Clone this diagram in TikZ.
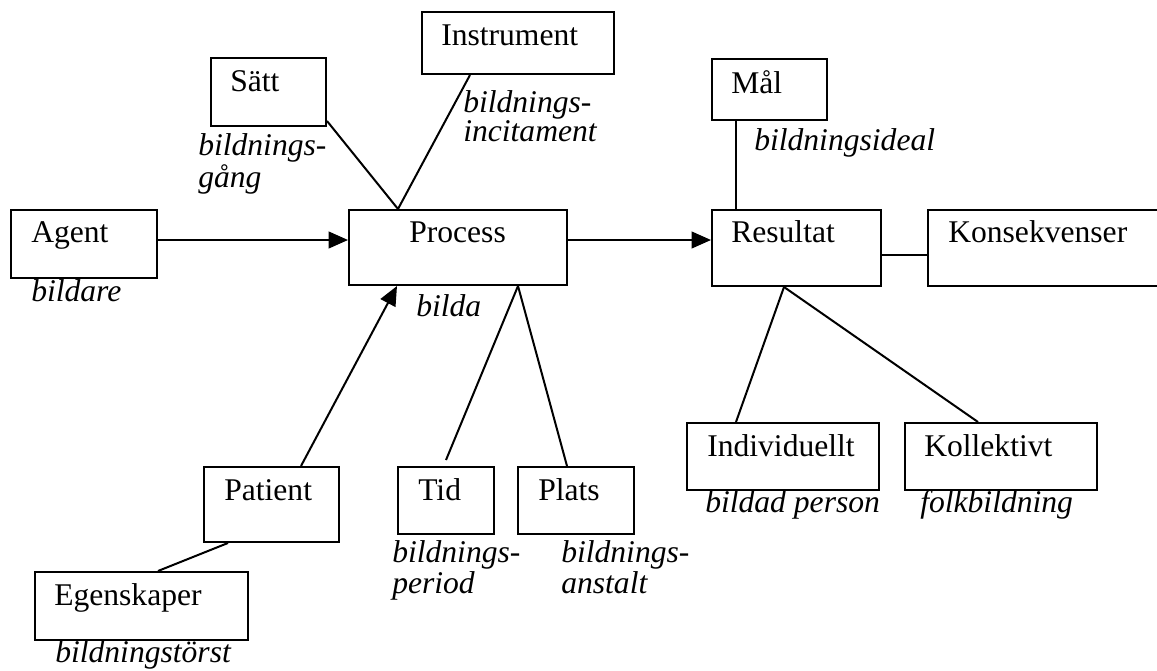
\documentclass[tikz,border=0pt]{standalone}
\usepackage{fontspec}
\setmainfont{Liberation Serif}
\usetikzlibrary{arrows.meta}
\begin{document}
\begin{tikzpicture}[x=0.75pt,y=-0.75pt,
  font=\fontsize{23.7}{28}\selectfont,
  box/.style={draw,line width=1.5pt,rectangle,anchor=north west,inner sep=0pt},
  lab/.style={anchor=base west,inner sep=0pt},
  itl/.style={lab,font=\fontsize{23.7}{28}\selectfont\itshape},
  con/.style={line width=1.5pt},
  arr/.style={con,-{Triangle[length=14.5pt,width=12.5pt]}}]
\useasboundingbox (0,0) rectangle (1157,671);
\fill[white] (0,0) rectangle (1157,671);
\clip (0,0) rectangle (1157,671);
\newcommand\bx[5]{\node[box,minimum width={(#4-#2)*0.75pt},minimum height={(#5-#3)*0.75pt}] (#1) at (#2,#3) {};}
% boxes
\bx{agent}{10}{209}{156}{277}
\bx{process}{348}{209}{566}{284}
\bx{satt}{210}{57}{325}{125}
\bx{instr}{421}{11}{613}{73}
\bx{mal}{711}{58}{826}{119}
\bx{result}{711}{209}{880}{285}
\bx{kons}{927}{209}{1180}{285}
\bx{patient}{203}{466}{338}{541}
\bx{tid}{397}{466}{493}{533}
\bx{plats}{517}{466}{633}{533}
\bx{indiv}{686}{422}{878}{489}
\bx{koll}{904}{422}{1096}{489}
\bx{egen}{34}{571}{247}{639}
% box texts
\node[lab] (tagent) at ([shift={(21,33)}]agent.north west) {Agent};
\node[lab] (tprocess) at ([shift={(61,33)}]process.north west) {Process};
\node[lab] (tsatt) at ([shift={(20,34)}]satt.north west) {Sätt};
\node[lab] (tinstr) at ([shift={(20,34)}]instr.north west) {Instrument};
\node[lab] (tmal) at ([shift={(20,35)}]mal.north west) {Mål};
\node[lab] (tresult) at ([shift={(20,33)}]result.north west) {Resultat};
\node[lab] (tkons) at ([shift={(21,33)}]kons.north west) {Konsekvenser};
\node[lab] (tpatient) at ([shift={(21,34)}]patient.north west) {Patient};
\node[lab] (ttid) at ([shift={(21,34)}]tid.north west) {Tid};
\node[lab] (tplats) at ([shift={(21,34)}]plats.north west) {Plats};
\node[lab] (tindiv) at ([shift={(21,34)}]indiv.north west) {Individuellt};
\node[lab] (tkoll) at ([shift={(20,34)}]koll.north west) {Kollektivt};
\node[lab] (tegen) at ([shift={(20,34)}]egen.north west) {Egenskaper};
% italic labels
\node[itl] (lagent) at (31,301) {bildare};
\node[itl] (lprocess) at (416,316) {bilda};
\node[itl] (lsatt1) at (198,155) {bildnings-};
\node[itl] (lsatt2) at (198,187) {gång};
\node[itl] (linstr1) at (463,112) {bildnings-};
\node[itl] (linstr2) at (463,141) {incitament};
\node[itl] (lmal) at (754,150) {bildningsideal};
\node[itl] (ltid1) at (392,562) {bildnings-};
\node[itl] (ltid2) at (392,593) {period};
\node[itl] (lplats1) at (561,562) {bildnings-};
\node[itl] (lplats2) at (561,593) {anstalt};
\node[itl] (lindiv) at (705,512) {bildad person};
\node[itl] (lkoll) at (920,512) {folkbildning};
\node[itl] (legen) at (55,662) {bildningstörst};
% connectors
\draw[arr] ([shift={(0,-4)}]agent.east) -- ([shift={(0,-7.5)}]process.west);
\draw[arr] ([shift={(0,-7.5)}]process.east) -- ([shift={(0,-8)}]result.west);
\draw[con] ([shift={(0,29)}]satt.east) -- ([shift={(-60,0)}]process.north);
\draw[con] ([shift={(-48,0)}]instr.south) -- ([shift={(-60,0)}]process.north);
\draw[con] ([shift={(-33.5,0)}]mal.south) -- ([shift={(-60.5,0)}]result.north);
\draw[con] ([shift={(0,7)}]result.east) -- ([shift={(0,7)}]kons.west);
\draw[arr] ([shift={(29.5,0)}]patient.north) -- ([shift={(-61,0)}]process.south);
\draw[con] ([shift={(16.5,0)}]egen.north) -- ([shift={(-43.5,0)}]patient.south);
\draw[con] ([shift={(0,-6)}]tid.north) -- ([shift={(60,0)}]process.south);
\draw[con] ([shift={(-9,0)}]plats.north) -- ([shift={(60,0)}]process.south);
\draw[con] ([shift={(-12.5,0)}]result.south) -- ([shift={(-47,0)}]indiv.north);
\draw[con] ([shift={(-12.5,0)}]result.south) -- ([shift={(-23,0)}]koll.north);
\end{tikzpicture}
\end{document}
